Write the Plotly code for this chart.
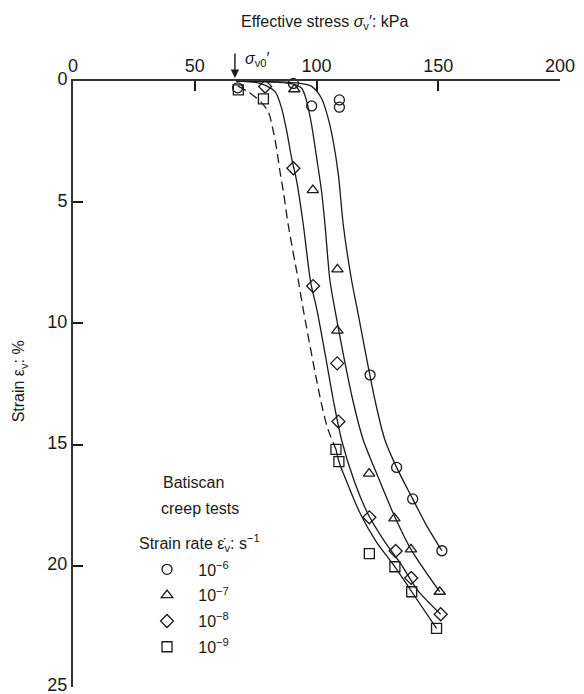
import plotly.graph_objects as go

# ---- data (stress in kPa, strain in %) ----
# measured points
c6_stress = [67.6, 90.5, 98.0, 109.4, 109.4, 122.0, 132.9, 139.5, 151.5]
c6_strain = [0.28, 0.10, 1.03, 0.78, 1.08, 12.13, 15.94, 17.24, 19.38]

t7_stress = [90.9, 98.5, 108.6, 108.6, 121.6, 132.0, 138.8, 150.6]
t7_strain = [0.34, 4.5, 7.77, 10.3, 16.2, 18.04, 19.32, 21.07]

d8_stress = [78.9, 90.5, 98.6, 108.5, 109.0, 121.7, 132.5, 138.9, 151.0]
d8_strain = [0.23, 3.6, 8.46, 11.65, 14.05, 18.0, 19.39, 20.5, 22.0]

s9_stress = [67.9, 78.2, 108.0, 109.2, 121.7, 132.2, 139.1, 149.3]
s9_strain = [0.37, 0.74, 15.2, 15.7, 19.5, 20.04, 21.07, 22.58]

# fitted curves
c6_line_stress = [67, 85, 93, 98, 102.1, 104.8, 106.9, 109.0, 111.0, 114.4, 116.8, 124.0, 128.1, 132.9, 139.5, 145.0, 151.5]
c6_line_strain = [0.0, 0.04, 0.1, 0.22, 0.72, 1.54, 2.5, 3.88, 5.94, 8.21, 9.45, 13.16, 14.81, 15.94, 17.24, 18.3, 19.38]

t7_line_stress = [67, 84, 90, 93.9, 96.0, 98.0, 100.1, 102.1, 103.5, 105.5, 107.6, 114.9, 119.2, 124.7, 131.5, 138.8, 150.6]
t7_line_strain = [0.0, 0.05, 0.12, 0.3, 0.85, 1.82, 3.19, 4.57, 5.94, 8.21, 9.45, 13.16, 14.81, 16.19, 17.83, 19.32, 21.07]

d8_line_stress = [67, 75, 79, 83.0, 85.7, 87.8, 89.8, 91.9, 94.6, 97.6, 100.2, 103.6, 106.9, 110.3, 115.5, 121.0, 128.0, 134.5, 141.5, 151.0]
d8_line_strain = [0.0, 0.06, 0.18, 0.44, 1.13, 2.09, 3.19, 4.15, 5.94, 8.3, 9.45, 11.3, 13.16, 14.81, 16.5, 17.83, 19.0, 19.9, 21.0, 22.0]

s9_dash_stress = [67.6, 72, 77, 80.2, 82.3, 83.6, 85.0, 86.4, 88.4, 92.5, 94.6, 101.7, 104.5, 108.0]
s9_dash_strain = [0.2, 0.45, 0.85, 1.27, 2.09, 2.78, 3.74, 4.57, 5.94, 8.21, 9.45, 13.16, 14.3, 15.2]

s9_line_stress = [108.0, 109.2, 113.5, 117.9, 124.5, 132.2, 139.1, 149.3]
s9_line_strain = [15.2, 15.7, 16.8, 17.83, 19.0, 20.04, 21.07, 22.58]

x_ticks = [0, 50, 100, 150, 200]
y_ticks = [0, 5, 10, 15, 20, 25]
sigma_v0 = 66.5

series_names = ["10<sup>−6</sup>", "10<sup>−7</sup>", "10<sup>−8</sup>", "10<sup>−9</sup>"]

INK = "#1a1a1a"
FONT = "Liberation Sans, Arial, sans-serif"

fig = go.Figure()

line_style = dict(color=INK, width=1.3, shape="spline", smoothing=0.8)
for xs, ys in [(c6_line_stress, c6_line_strain), (t7_line_stress, t7_line_strain),
               (d8_line_stress, d8_line_strain), (s9_line_stress, s9_line_strain)]:
    fig.add_trace(go.Scatter(x=xs, y=ys, mode="lines", line=line_style,
                             showlegend=False, hoverinfo="skip"))
fig.add_trace(go.Scatter(x=s9_dash_stress, y=s9_dash_strain, mode="lines",
                         line=dict(color=INK, width=1.3, shape="spline", smoothing=0.8, dash="9px,5px"),
                         showlegend=False, hoverinfo="skip"))

symbols = ["circle-open", "triangle-up-open", "diamond-open", "square-open"]
for i, ((xs, ys), sym, nm) in enumerate(zip([(c6_stress, c6_strain), (t7_stress, t7_strain),
                                             (d8_stress, d8_strain), (s9_stress, s9_strain)],
                                            symbols, series_names)):
    fig.add_trace(go.Scatter(x=xs, y=ys, mode="markers", name="\u2002\u2009" + nm,
                             legendgroup=f"g{i}",
                             marker=dict(symbol=sym, size=10, color=INK, line=dict(color=INK, width=1.3)),
                             cliponaxis=False))

fig.update_layout(
    width=584, height=694,
    margin=dict(l=73, r=24, t=81, b=7),
    paper_bgcolor="white", plot_bgcolor="white",
    font=dict(family=FONT, size=16, color=INK),
    showlegend=True,
    legend=dict(x=0.152, y=0.222, xanchor="left", yanchor="top",
                bgcolor="rgba(0,0,0,0)", font=dict(size=16, family=FONT, color=INK),
                tracegroupgap=2),
    xaxis=dict(side="top", range=[0, 200], tickvals=x_ticks, ticks="inside", ticklen=10,
               tickwidth=1.5, tickcolor=INK, showline=True, linewidth=2, linecolor="#333",
               showgrid=False, zeroline=False, tickfont=dict(size=18, family=FONT, color=INK),
               automargin=False, ticklabeloverflow="allow"),
    yaxis=dict(range=[25, 0], tickvals=y_ticks, ticks="inside", ticklen=10, tickwidth=1.5,
               tickcolor=INK, showline=True, linewidth=2, linecolor="#333", showgrid=False,
               zeroline=False, tickfont=dict(size=18, family=FONT, color=INK), automargin=False,
               ticklabeloverflow="allow", ticklabelshift=2),
)

annots = [
    dict(text="Effective stress <i>σ</i><sub>v</sub>′: kPa", x=0.517, y=1.097, xref="paper", yref="paper",
         font=dict(size=16)),
    dict(text="<i>σ</i><sub>v0</sub>′", x=69.8, y=1.035, xref="x", yref="paper", xanchor="left",
         font=dict(size=16)),
    dict(text="Strain ε<sub>v</sub>: %", x=-0.108, y=0.505, xref="paper", yref="paper", textangle=-90,
         font=dict(size=16)),
    dict(text="Batiscan", x=0.248, y=0.338, xref="paper", yref="paper"),
    dict(text="creep tests", x=0.261, y=0.295, xref="paper", yref="paper"),
    dict(text="Strain rate ε\u0307<sub>v</sub>: s<sup>−1</sup>", x=0.259, y=0.238, xref="paper", yref="paper"),
]
for a in annots:
    a.setdefault("xanchor", "center")
    fig.add_annotation(showarrow=False, yanchor="middle", **a)

fig.add_annotation(x=sigma_v0, y=1.005, xref="x", yref="paper", ax=0, ay=-26, showarrow=True,
                   arrowhead=2, arrowsize=1.2, arrowwidth=1.4, arrowcolor=INK, text="")

fig.write_html("out.html")
